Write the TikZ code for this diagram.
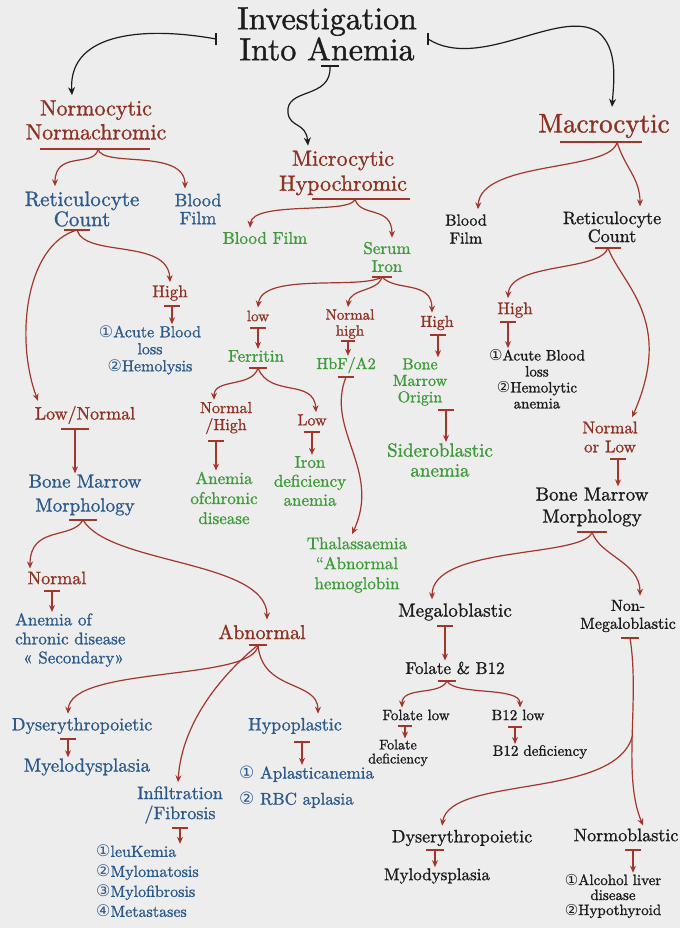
\documentclass[tikz,border=0pt]{standalone}
\usepackage{fontspec}
\setmainfont{lmroman10-regular.otf}[FakeBold=1.2]
\newfontfamily\symf{DejaVu Sans}
\usetikzlibrary{arrows.meta}
\definecolor{paper}{HTML}{EEEDED}
\definecolor{rt}{HTML}{8C3324}
\definecolor{ra}{HTML}{A0372A}
\definecolor{bt}{HTML}{2C5A8A}
\definecolor{gt}{HTML}{3E9A3A}
\definecolor{kt}{HTML}{1C1C1C}
\newcommand\fs[2]{\fontsize{#1}{#2}\selectfont}
\newcommand\sy[1]{{\symf #1}}
% T connector: name, x, y, half width, target node
\newcommand\Tarr[5]{%
  \coordinate (#1) at (#2,#3);
  \draw[bar] ([xshift=-#4pt]#1) -- ([xshift=#4pt]#1);
  \draw[arr] (#1) -- (#1 |- #5.north);}
\begin{document}
\begin{tikzpicture}[x=1pt,y=-1pt,
  every node/.style={inner sep=1pt, align=center},
  R/.style={text=rt}, B/.style={text=bt}, G/.style={text=gt}, K/.style={text=kt},
  arr/.style={draw=ra, line width=1.2pt, -{Stealth[length=7pt,width=6pt]}},
  karr/.style={draw=kt, line width=1.2pt, -{Stealth[length=8pt,width=7pt]}},
  bar/.style={draw=ra, line width=1.2pt},
  kbar/.style={draw=kt, line width=1.2pt},
]
\fill[paper] (0,0) rectangle (680,928);
\useasboundingbox (0,0) rectangle (680,928);

% ---------- title ----------
\node[K, font=\fs{32}{31}] (title) at (327,34) {Investigation\\Into Anemia};

% ---------- left column ----------
\node[R, font=\fs{22}{24}] (nn) at (96,120) {Normocytic\\Normachromic};
\node[B, font=\fs{21}{18}] (retL) at (82,209) {Reticulocyte\\Count};
\node[B, font=\fs{18}{18}] (bfL) at (198,209) {Blood\\Film};
\node[R, font=\fs{17}{17}] (hiL) at (170,293) {High};
\node[B, font=\fs{16}{17}] (abl) at (150,350) {\sy{①}Acute Blood\\loss\\\sy{②}Hemolysis};
\node[R, font=\fs{18}{18}] (lnL) at (85,415) {Low/Normal};
\node[B, font=\fs{19}{24}] (bmmL) at (85,495) {Bone Marrow\\Morphology};
\node[R, font=\fs{18}{18}] (nL) at (57,578) {Normal};
\node[B, font=\fs{17}{19}, align=left, anchor=west] (acdL) at (14,640) {Anemia of\\chronic disease\\\hspace*{8pt}« Secondary»};
\node[R, font=\fs{20}{20}] (abn) at (262,632) {Abnormal};
\node[B, font=\fs{18}{18}] (dysL) at (82,726) {Dyserythropoietic};
\node[B, font=\fs{19}{19}] (myeL) at (87,767) {Myelodysplasia};
\node[B, font=\fs{18}{18}] (hypo) at (295,726) {Hypoplastic};
\node[B, font=\fs{17}{26}, align=left, anchor=west] (apl) at (238,787) {\sy{①} Aplasticanemia\\\sy{②} RBC aplasia};
\node[B, font=\fs{18}{20}] (inf) at (180,805) {Infiltration\\/Fibrosis};
\node[B, font=\fs{16}{20}, align=left, anchor=west] (leuk) at (95,881) {\sy{①}leuKemia\\\sy{②}Mylomatosis\\\sy{③}Mylofibrosis\\\sy{④}Metastases};

% ---------- middle column ----------
\node[R, font=\fs{22}{25}] (mic) at (343,173) {Microcytic\\Hypochromic};
\node[G, font=\fs{17}{17}] (bfM) at (265,238) {Blood Film};
\node[G, font=\fs{17}{18}] (si) at (387,257) {Serum\\Iron};
\node[R, font=\fs{15}{15}] (lowM) at (258,316) {low};
\node[G, font=\fs{17}{17}] (ferr) at (256,356) {Ferritin};
\node[R, font=\fs{15}{16}] (nh) at (350,324) {Normal\\high};
\node[G, font=\fs{16}{16}] (hbf) at (346,365) {HbF/A2};
\node[R, font=\fs{16}{16}] (hiM) at (437,323) {High};
\node[G, font=\fs{16}{16.5}] (bmo) at (420,382) {Bone\\Marrow\\Origin};
\node[G, font=\fs{19}{20}] (sid) at (440,460) {Sideroblastic\\anemia};
\node[R, font=\fs{16}{17}] (nhF) at (226,418) {Normal\\/High};
\node[R, font=\fs{16}{16}] (lowF) at (312,420) {Low};
\node[G, font=\fs{17}{20}] (acdM) at (224,498) {Anemia\\ofchronic\\disease};
\node[G, font=\fs{17}{19}] (ida) at (310,481) {Iron\\deficiency\\anemia};
\node[G, font=\fs{17}{20}] (thal) at (357,565) {Thalassaemia\\“Abnormal\\hemoglobin};

% ---------- right column ----------
\node[R, font=\fs{27}{27}] (mac) at (604,126) {Macrocytic};
\node[K, font=\fs{16}{18}] (bfR) at (466,229) {Blood\\Film};
\node[K, font=\fs{18}{18}] (retR) at (612,227) {Reticulocyte\\Count};
\node[R, font=\fs{17}{17}] (hiR) at (515,310) {High};
\node[K, font=\fs{15}{16}] (ablR) at (537,379) {\sy{①}Acute Blood\\loss\\\sy{②}Hemolytic\\anemia};
\node[R, font=\fs{17}{19}] (nol) at (610,437) {Normal\\or Low};
\node[K, font=\fs{19}{22}] (bmmR) at (592,507) {Bone Marrow\\Morphology};
\node[K, font=\fs{19}{19}] (mega) at (455,612) {Megaloblastic};
\node[K, font=\fs{16}{18}] (nonm) at (628,616) {Non-\\Megaloblastic};
\node[K, font=\fs{17}{17}] (fb) at (455,668) {Folate \& B12};
\node[K, font=\fs{15}{15}] (fl) at (416,715) {Folate low};
\node[K, font=\fs{15}{15}] (bl) at (518,715) {B12 low};
\node[K, font=\fs{14}{14}] (fd) at (398,753) {Folate\\deficiency};
\node[K, font=\fs{15}{15}] (bd) at (540,752) {B12 deficiency};
\node[K, font=\fs{18}{18}] (dysR) at (462,838) {Dyserythropoietic};
\node[K, font=\fs{17}{17}] (myR) at (437,876) {Mylodysplasia};
\node[K, font=\fs{18}{18}] (nor) at (626,835) {Normoblastic};
\node[K, font=\fs{15}{15}] (alc) at (613,896) {\sy{①}Alcohol liver\\disease\\\sy{②}Hypothyroid};

% ---------- title connectors ----------
\coordinate (tL) at (216,39);
\coordinate (tR) at (428,39);
\coordinate (tM) at (330,66);
\draw[kbar] ([yshift=-6pt]tL) -- ([yshift=6pt]tL);
\draw[kbar] ([yshift=-6pt]tR) -- ([yshift=6pt]tR);
\draw[kbar] ([xshift=-9pt]tM) -- ([xshift=9pt]tM);
\draw[karr] (tL) .. controls (150,27) and (68,30) .. ([xshift=-24pt,yshift=4pt]nn.north);
\draw[karr] (tR) .. controls (480,72) and (560,7) .. (598,32) .. controls (618,48) and (614,80) .. ([xshift=8pt,yshift=6pt]mac.north);
\draw[karr] (tM) .. controls (332,100) and (285,87) .. (288,113) .. controls (290,128) and (306,122) .. ([xshift=-35pt,yshift=4pt]mic.north);

% ---------- underlines / branch bars ----------
\coordinate (bNN) at (98,149);
\draw[bar] ([xshift=-58pt]bNN) -- ([xshift=52pt]bNN);
\draw[arr] (bNN) .. controls (95,168) and (55,150) .. ([xshift=-27pt,yshift=4pt]retL.north);
\draw[arr] (bNN) .. controls (102,168) and (185,148) .. ([xshift=-13pt,yshift=4pt]bfL.north);

\coordinate (bRetL) at (77,230);
\draw[bar] ([xshift=-13pt]bRetL) -- ([xshift=13pt]bRetL);
\draw[arr] (bRetL) .. controls (85,258) and (168,238) .. ([yshift=2pt]hiL.north);
\draw[arr] (bRetL) .. controls (25,245) and (15,340) .. ([xshift=-47pt,yshift=4pt]lnL.north);

\coordinate (bMic) at (355,199);
\draw[bar] ([xshift=-43pt]bMic) -- ([xshift=55pt]bMic);
\draw[arr] (bMic) .. controls (352,215) and (252,200) .. ([xshift=-15pt,yshift=3pt]bfM.north);
\draw[arr] (bMic) .. controls (360,218) and (392,205) .. ([xshift=5pt,yshift=3pt]si.north);

\coordinate (bSi) at (382,277);
\draw[bar] ([xshift=-10pt]bSi) -- ([xshift=10pt]bSi);
\draw[arr] (bSi) .. controls (360,290) and (262,272) .. ([yshift=2pt]lowM.north);
\draw[arr] (bSi) .. controls (378,292) and (350,288) .. ([xshift=-2pt,yshift=1pt]nh.north);
\draw[arr] (bSi) .. controls (396,292) and (432,280) .. ([xshift=-5pt,yshift=2pt]hiM.north);

\coordinate (bFerr) at (258,368);
\draw[bar] ([xshift=-9pt]bFerr) -- ([xshift=9pt]bFerr);
\draw[arr] (bFerr) .. controls (252,388) and (214,378) .. ([xshift=-12pt,yshift=1pt]nhF.north);
\draw[arr] (bFerr) .. controls (270,398) and (314,378) .. ([xshift=4pt,yshift=1pt]lowF.north);

\coordinate (bHbf) at (346,377);
\draw[bar] ([xshift=-8pt]bHbf) -- ([xshift=8pt]bHbf);
\draw[arr] (bHbf) .. controls (325,430) and (382,470) .. ([xshift=-5pt,yshift=2pt]thal.north);

\coordinate (bBmmL) at (83,520);
\draw[bar] ([xshift=-14pt]bBmmL) -- ([xshift=14pt]bBmmL);
\draw[arr] (bBmmL) .. controls (72,540) and (30,525) .. ([xshift=-27pt,yshift=2pt]nL.north);
\draw[arr] (bBmmL) .. controls (110,565) and (267,560) .. ([xshift=5pt,yshift=4pt]abn.north);

\coordinate (bAbn) at (258,645);
\draw[bar] ([xshift=-9pt]bAbn) -- ([xshift=9pt]bAbn);
\draw[arr] (bAbn) .. controls (255,682) and (70,665) .. ([xshift=-14pt,yshift=3pt]dysL.north);
\draw[arr] (bAbn) .. controls (225,672) and (182,720) .. ([xshift=-2pt,yshift=3pt]inf.north);
\draw[arr] (bAbn) .. controls (262,692) and (318,680) .. ([xshift=23pt,yshift=3pt]hypo.north);

\coordinate (bMac) at (617,142);
\draw[bar] ([xshift=-57pt]bMac) -- ([xshift=25pt]bMac);
\draw[arr] (bMac) .. controls (612,172) and (480,160) .. ([xshift=12pt,yshift=4pt]bfR.north);
\draw[arr] (bMac) .. controls (625,168) and (640,178) .. ([xshift=28pt,yshift=4pt]retR.north);

\coordinate (bRetR) at (608,248);
\draw[bar] ([xshift=-13pt]bRetR) -- ([xshift=13pt]bRetR);
\draw[arr] (bRetR) .. controls (600,272) and (510,262) .. ([xshift=-7pt,yshift=3pt]hiR.north);
\draw[arr] (bRetR) .. controls (622,285) and (675,320) .. ([xshift=22pt,yshift=3pt]nol.north);

\coordinate (bBmmR) at (592,532);
\draw[bar] ([xshift=-15pt]bBmmR) -- ([xshift=15pt]bBmmR);
\draw[arr] (bBmmR) .. controls (585,558) and (432,545) .. ([xshift=-23pt,yshift=3pt]mega.north);
\draw[arr] (bBmmR) .. controls (600,556) and (640,562) .. ([xshift=12pt,yshift=3pt]nonm.north);

\coordinate (bNonm) at (630,638);
\draw[bar] ([xshift=-9pt]bNonm) -- ([xshift=9pt]bNonm);
\draw[arr] (bNonm) .. controls (640,700) and (622,775) .. ([xshift=17pt,yshift=2pt]nor.north) coordinate[pos=0.5] (split);
\draw[arr] (split) .. controls (615,800) and (450,775) .. ([xshift=-20pt,yshift=3pt]dysR.north);

\coordinate (bFb) at (447,681);
\draw[bar] ([xshift=-9pt]bFb) -- ([xshift=9pt]bFb);
\draw[arr] (bFb) .. controls (440,696) and (402,686) .. ([xshift=-14pt,yshift=1pt]fl.north);
\draw[arr] (bFb) .. controls (455,696) and (520,686) .. ([xshift=2pt,yshift=1pt]bl.north);

% ---------- T connectors ----------
\Tarr{tHiL}{172}{306}{8}{abl}
\Tarr{tLnL}{75}{429}{14}{bmmL}
\Tarr{tNL}{52}{591}{8}{acdL}
\Tarr{tDysL}{68}{739}{8}{myeL}
\Tarr{tHypo}{302}{742}{8}{apl}
\Tarr{tInf}{180}{828}{8}{leuk}
\Tarr{tLowM}{258}{328}{8}{ferr}
\Tarr{tNh}{348}{341}{7}{hbf}
\Tarr{tHiM}{438}{335}{8}{bmo}
\Tarr{tBmo}{446}{410}{8}{sid}
\Tarr{tNhF}{216}{441}{8}{acdM}
\Tarr{tLowF}{312}{432}{8}{ida}
\Tarr{tHiR}{508}{322}{8}{ablR}
\Tarr{tNol}{618}{459}{8}{bmmR}
\Tarr{tMega}{445}{626}{8}{fb}
\Tarr{tFl}{405}{726}{7}{fd}
\Tarr{tBl}{515}{727}{7}{bd}
\Tarr{tDysR}{435}{850}{9}{myR}
\Tarr{tNor}{633}{850}{8}{alc}
\end{tikzpicture}
\end{document}
